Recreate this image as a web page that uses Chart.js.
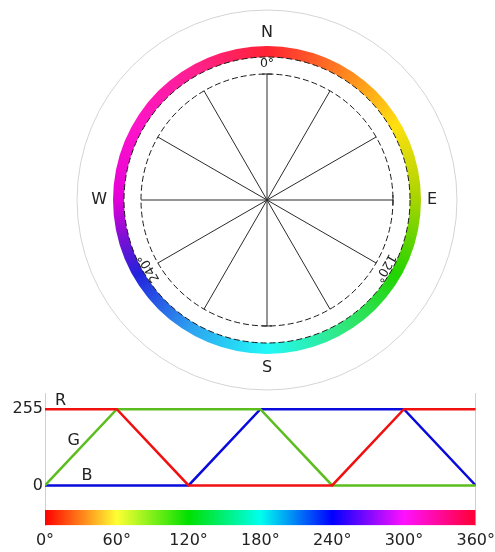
<!DOCTYPE html>
<html>
<head>
<meta charset="utf-8">
<script src="https://cdn.jsdelivr.net/npm/chart.js@4.4.1/dist/chart.umd.min.js"></script>
<style>
html,body{margin:0;padding:0;background:#fff;}
#wrap{position:relative;width:495px;height:552px;overflow:hidden;}
canvas{position:absolute;display:block;}
</style>
</head>
<body>
<div id="wrap">
  <canvas id="rgb" width="495" height="552" style="left:0;top:0;width:495px;height:552px"></canvas>
  <canvas id="ring" width="308" height="308" style="left:113px;top:46px;width:308px;height:308px"></canvas>
  <canvas id="outer" width="384" height="384" style="left:75px;top:8px;width:384px;height:384px"></canvas>
  <canvas id="inner" width="300" height="300" style="left:117px;top:50px;width:300px;height:300px"></canvas>
</div>
<script>
// ---------- data ----------
const hueDeg      = [0, 60, 120, 180, 240, 300, 360];
const redValues   = [255, 255, 0, 0, 0, 255, 255];
const greenValues = [0, 255, 255, 255, 0, 0, 0];
const blueValues  = [0, 0, 0, 255, 255, 255, 0];
const valueTicks  = [0, 255];
const hueTicks    = [0, 60, 120, 180, 240, 300, 360];
const seriesNames = ['R', 'G', 'B'];
const seriesLabelHue   = [13, 24, 35];
const seriesLabelValue = [283, 149, 32];

const compassLabels = ['N', 'E', 'S', 'W'];
const spokeHues     = [0, 30, 60, 90, 120, 150, 180, 210, 240, 270, 300, 330];
const degreeLabelHues = [0, 120, 240];
const degreeLabels    = ['0°', '120°', '240°'];
const tickMarkHues    = [0, 90, 180];

const ringStopHues  = [0, 30, 60, 90, 120, 150, 180, 210, 240, 255, 270, 300, 330, 360];
const ringStopColors = ['#ff2233', '#ff8020', '#ffe010', '#a6d400', '#22d400', '#30e880', '#22f8f8',
                        '#2ea4f0', '#2222dd', '#7a10d4', '#e400d8', '#ff14c8', '#ff2090', '#ff2233'];

const barStopHues   = [0, 60, 120, 180, 240, 300, 360];
const barStopColors = ['#ff0000', '#ffff33', '#00e000', '#00ffee', '#0000ff', '#ff11ff', '#ff0033'];

// ---------- settings ----------
Chart.defaults.animation = false;
Chart.defaults.font.family = '"DejaVu Sans", Verdana, sans-serif';
Chart.defaults.plugins.legend.display = false;
Chart.defaults.plugins.tooltip.enabled = false;
Chart.defaults.events = [];

const FONT = '"DejaVu Sans", Verdana, sans-serif';
const TEXT = '#222';

// ---------- bottom RGB chart ----------
function pts(vals) { return hueDeg.map((h, i) => ({x: h, y: vals[i]})); }
const hueBarTop = -82;

const seriesLabelPlugin = {
  id: 'seriesLabels',
  afterDatasetsDraw(chart) {
    const {ctx, scales: {x, y}} = chart;
    ctx.save();
    ctx.font = '16px ' + FONT;
    ctx.fillStyle = TEXT;
    ctx.textAlign = 'center';
    ctx.textBaseline = 'middle';
    seriesNames.forEach((n, i) => {
      ctx.fillText(n, x.getPixelForValue(seriesLabelHue[i]), y.getPixelForValue(seriesLabelValue[i]));
    });
    ctx.restore();
  }
};

new Chart(document.getElementById('rgb'), {
  type: 'line',
  data: {
    datasets: [
      {label: 'R', data: pts(redValues), borderColor: '#f01010', borderWidth: 2.5, pointRadius: 0, tension: 0},
      {label: 'G', data: pts(greenValues), borderColor: '#5cbe1e', borderWidth: 2.5, pointRadius: 0, tension: 0},
      {label: 'B', data: pts(blueValues), borderColor: '#0a0adc', borderWidth: 2.5, pointRadius: 0, tension: 0},
      {label: 'hue', data: [{x: 0, y: hueBarTop}, {x: 360, y: hueBarTop}], borderWidth: 0, pointRadius: 0,
       fill: 'start',
       backgroundColor: (c) => {
         const ch = c.chart; const xs = ch.scales.x;
         if (!ch.chartArea || !xs) return 'rgba(0,0,0,0)';
         const x0 = xs.getPixelForValue(0), x1 = xs.getPixelForValue(360);
         const g = ch.ctx.createLinearGradient(x0, 0, x1, 0);
         barStopHues.forEach((h, i) => g.addColorStop(h / 360, barStopColors[i]));
         return g;
       }}
    ]
  },
  options: {
    responsive: false,
    layout: {padding: {top: 393, bottom: 0, left: 0, right: 0}},
    scales: {
      x: {
        type: 'linear', min: 0, max: 360,
        afterBuildTicks: (s) => { s.ticks = hueTicks.map(v => ({value: v})); },
        afterFit: (s) => { s.height = 26.5; },
        ticks: {callback: (v) => v + '°', font: {size: 16, lineHeight: '30px'}, color: TEXT, padding: 0,
                maxRotation: 0, autoSkip: false},
        grid: {drawTicks: false, lineWidth: 1,
               color: (c) => (c.tick && (c.tick.value === 0 || c.tick.value === 360)) ? '#d0d0d0' : 'rgba(0,0,0,0)'},
        border: {display: false}
      },
      y: {
        type: 'linear', min: -134, max: 309,
        afterBuildTicks: (s) => { s.ticks = valueTicks.map(v => ({value: v})); },
        afterFit: (s) => { s.width = 45; },
        ticks: {font: {size: 16}, color: TEXT, padding: 2},
        grid: {display: false, drawTicks: false},
        border: {display: false}
      }
    }
  },
  plugins: [seriesLabelPlugin]
});

// ---------- hue ring ----------
new Chart(document.getElementById('ring'), {
  type: 'doughnut',
  data: {
    labels: ['hue'],
    datasets: [{
      data: [360],
      borderWidth: 0,
      backgroundColor: (c) => {
        const ch = c.chart; const a = ch.chartArea;
        if (!a) return 'rgba(0,0,0,0)';
        const cx = (a.left + a.right) / 2, cy = (a.top + a.bottom) / 2;
        const g = ch.ctx.createConicGradient(-Math.PI / 2, cx, cy);
        ringStopHues.forEach((h, i) => g.addColorStop(h / 360, ringStopColors[i]));
        return g;
      }
    }]
  },
  options: {responsive: false, cutout: '92.9%', layout: {padding: 0}}
});

// ---------- outer radar: compass letters, grey boundary, dashed ring edge ----------
new Chart(document.getElementById('outer'), {
  type: 'radar',
  data: {labels: compassLabels, datasets: [{data: [], pointRadius: 0, borderWidth: 0}]},
  options: {
    responsive: false,
    layout: {padding: 2},
    scales: {
      r: {
        min: 0, max: 1,
        afterBuildTicks: (s) => { s.ticks = [0, 143 / 190, 1].map(v => ({value: v})); },
        ticks: {display: false},
        angleLines: {display: false},
        grid: {circular: true, lineWidth: 1,
               color: (c) => c.index === 2 ? '#d4d4d4' : '#1a1a1a'},
        border: {dash: (c) => c.index === 1 ? [6, 3] : []},
        pointLabels: {display: true, color: TEXT, font: {size: 16},
                      padding: (c) => (c.index === 1 || c.index === 3) ? -30 : -32}
      }
    }
  }
});

// ---------- inner radar: spokes, dashed circle, degree labels ----------
const degreeLabelPlugin = {
  id: 'degreeLabels',
  afterDraw(chart) {
    const s = chart.scales.r; const ctx = chart.ctx;
    ctx.save();
    ctx.font = '12.5px ' + FONT;
    ctx.fillStyle = TEXT;
    ctx.textAlign = 'center';
    ctx.textBaseline = 'middle';
    degreeLabelHues.forEach((h, k) => {
      const idx = spokeHues.indexOf(h);
      const p = s.getPointPosition(idx, s.drawingArea * 136 / 126);
      ctx.save();
      ctx.translate(p.x, p.y);
      ctx.rotate(s.getIndexAngle(idx));
      ctx.fillText(degreeLabels[k], 0, 0);
      ctx.restore();
    });
    ctx.strokeStyle = '#1a1a1a';
    ctx.lineWidth = 1;
    tickMarkHues.forEach((h) => {
      const a = s.getIndexAngle(spokeHues.indexOf(h)) - Math.PI / 2;
      ctx.beginPath();
      ctx.arc(s.xCenter, s.yCenter, s.drawingArea, a - 0.04, a + 0.04);
      ctx.stroke();
    });
    ctx.restore();
  }
};

new Chart(document.getElementById('inner'), {
  type: 'radar',
  data: {labels: spokeHues.map(h => h + '°'), datasets: [{data: [], pointRadius: 0, borderWidth: 0}]},
  options: {
    responsive: false,
    layout: {padding: 24},
    scales: {
      r: {
        min: 0, max: 1,
        afterBuildTicks: (s) => { s.ticks = [0, 1].map(v => ({value: v})); },
        ticks: {display: false},
        angleLines: {display: true, color: '#2a2a2a', lineWidth: 1},
        grid: {circular: true, lineWidth: 1, color: '#1a1a1a'},
        border: {dash: [6, 3]},
        pointLabels: {display: false}
      }
    }
  },
  plugins: [degreeLabelPlugin]
});
</script>
</body>
</html>
